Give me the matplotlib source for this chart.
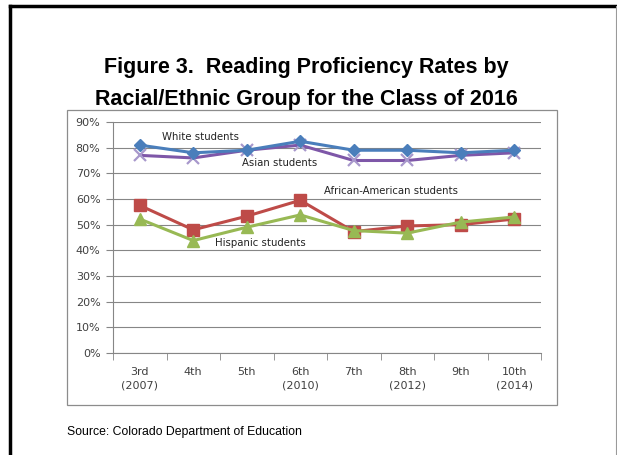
import numpy as np
import matplotlib.pyplot as plt
from matplotlib.lines import Line2D
from matplotlib.patches import Rectangle

# Data
grades = ["3rd\n(2007)", "4th", "5th", "6th\n(2010)", "7th", "8th\n(2012)", "9th", "10th\n(2014)"]
white = [81, 78, 79, 82.5, 79, 79, 78, 79]
asian = [77, 76, 79, 81, 75, 75, 77, 78]
african_american = [57.5, 48, 53.3, 59.5, 47.3, 49.5, 50, 52.2]
hispanic = [52.2, 43.8, 49, 53.8, 47.7, 46.7, 51, 53]

fig = plt.figure(figsize=(6.17, 4.55), dpi=100)
fig.patch.set_facecolor("white")

# outer frame of the page
fig.add_artist(Line2D([10/617, 10/617], [0, 1 - 6/455], color="black", lw=2.5, transform=fig.transFigure))
fig.add_artist(Line2D([10/617, 615/617], [1 - 6/455, 1 - 6/455], color="black", lw=2.5, transform=fig.transFigure))
fig.add_artist(Line2D([615.5/617, 615.5/617], [0, 1 - 6/455], color="#9a9a9a", lw=0.8, transform=fig.transFigure))

# chart box
fig.add_artist(Rectangle((67/617, 1 - 405/455), 490/617, 295/455, fill=False,
                         edgecolor="#8c8c8c", lw=0.9, transform=fig.transFigure))

fig.text(0.497, 1 - 68/455, "Figure 3.  Reading Proficiency Rates by", ha="center", va="center",
         fontsize=15.5, fontweight="bold", family="Liberation Sans")
fig.text(0.497, 1 - 100/455, "Racial/Ethnic Group for the Class of 2016", ha="center", va="center",
         fontsize=15.5, fontweight="bold", family="Liberation Sans")
fig.text(67/617, 1 - 432/455, "Source: Colorado Department of Education", ha="left", va="center",
         fontsize=8.8, family="Liberation Sans")

ax = fig.add_axes([113/617, 1 - 353/455, 428/617, 231/455])
x = np.arange(len(grades))

ax.plot(x, white, color="#4A7EBB", lw=2.2, marker="D", ms=6, mfc="#4A7EBB", mec="#4A7EBB", zorder=4)
ax.plot(x, asian, color="#7E57A8", lw=2.2, marker="x", ms=9, mew=1.6, mec="#A898CC", zorder=3)
ax.plot(x, african_american, color="#BE4B48", lw=2.2, marker="s", ms=8, mfc="#BE4B48", mec="#BE4B48", zorder=3)
ax.plot(x, hispanic, color="#98B954", lw=2.2, marker="^", ms=8, mfc="#98B954", mec="#98B954", zorder=4)

lab_font = dict(fontsize=7.3, color="#222222", family="DejaVu Sans", ha="center", va="center")
ax.text(1.13, 84, "White students", **lab_font)
ax.text(2.62, 73.9, "Asian students", **lab_font)
ax.text(4.7, 63, "African-American students", **lab_font)
ax.text(2.26, 42.8, "Hispanic students", **lab_font)

ax.set_xlim(-0.5, len(grades) - 0.5)
ax.set_ylim(0, 90)
ax.set_yticks(np.arange(0, 91, 10))
ax.set_yticklabels([f"{v}%" for v in range(0, 91, 10)])
ax.set_xticks(x)
ax.set_xticklabels(grades, linespacing=1.5)
ax.set_xticks(np.arange(-0.5, len(grades), 1), minor=True)
ax.tick_params(axis="x", which="major", length=0, pad=10, labelsize=8, labelcolor="#404040")
ax.tick_params(axis="x", which="minor", length=5, color="#868686", direction="out")
ax.tick_params(axis="y", length=5, color="#868686", labelsize=8, labelcolor="#404040", pad=4)

ax.grid(axis="y", color="#868686", lw=0.8)
ax.set_axisbelow(True)
for side in ["top", "right"]:
    ax.spines[side].set_visible(False)
for side in ["left", "bottom"]:
    ax.spines[side].set_color("#868686")
    ax.spines[side].set_linewidth(0.8)

plt.savefig("out.png", dpi=100)
